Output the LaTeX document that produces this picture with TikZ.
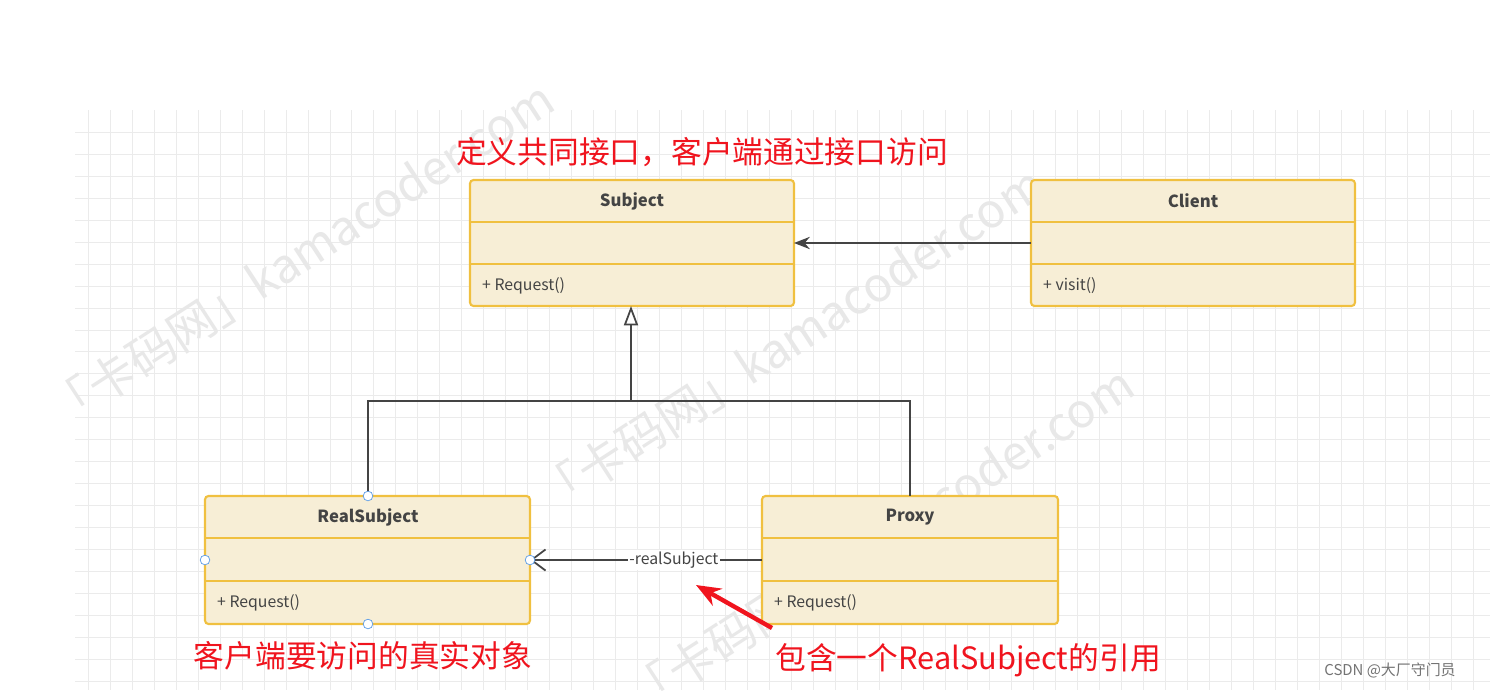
\documentclass[tikz,border=0pt]{standalone}
\usepackage{fontspec}
\setmainfont{Noto Sans CJK SC}
\usepackage{tikz}
\usetikzlibrary{arrows.meta}
\definecolor{boxfill}{HTML}{F7EED6}
\definecolor{boxline}{HTML}{F0C040}
\definecolor{linegray}{HTML}{444444}
\definecolor{handle}{HTML}{5A9BE6}
\definecolor{notered}{HTML}{F0141E}

\begin{document}
\begin{tikzpicture}[
    x=0.02cm, y=-0.02cm,
    umlbox/.style={draw=boxline, fill=boxfill, line width=1.2pt, rounded corners=2pt},
    part/.style={draw=boxline, line width=1.2pt},
    title/.style={font=\fontsize{9.5}{11}\selectfont\bfseries, text=linegray},
    member/.style={font=\fontsize{9}{11}\selectfont, text=linegray, anchor=west},
    note/.style={font=\fontsize{17.5}{20}\selectfont, text=notered},
    wire/.style={draw=linegray, line width=1pt},
    dot/.style={circle, draw=handle, fill=white, inner sep=0pt, minimum size=5.5pt},
    watermark/.style={font=\fontsize{27}{30}\selectfont, text=black!9, rotate=33}
]
    \useasboundingbox (0,0) rectangle (1490,690);
    % grid
    \fill[white] (0,0) rectangle (1490,690);
    \draw[black!8, line width=0.5pt, step=0.44cm] (75,110) grid (1490,690);
    % watermarks
    \node[watermark] (w1) at (300,255) {「卡码网」kamacoder.com};
    \node[watermark] (w2) at (790,340) {「卡码网」kamacoder.com};
    \node[watermark] (w3) at (880,540) {「卡码网」kamacoder.com};
    % classes
    \draw[umlbox] (470,180) rectangle (794,306);
    \draw[part] (470,222) -- (794,222) (470,264) -- (794,264);
    \node[title] (subject) at (632,201) {Subject};
    \node[member] (subreq) at (476,286) {+ Request()};
    \draw[umlbox] (1031,180) rectangle (1355,306);
    \draw[part] (1031,222) -- (1355,222) (1031,264) -- (1355,264);
    \node[title] (client) at (1193,201) {Client};
    \node[member] (visit) at (1037,286) {+ visit()};
    \draw[umlbox] (205,496) rectangle (530,624);
    \draw[part] (205,538) -- (530,538) (205,581) -- (530,581);
    \node[title] (real) at (368,517) {RealSubject};
    \node[member] (realreq) at (211,603) {+ Request()};
    \draw[umlbox] (762,496) rectangle (1058,624);
    \draw[part] (762,538) -- (1058,538) (762,581) -- (1058,581);
    \node[title] (proxy) at (910,517) {Proxy};
    \node[member] (proxyreq) at (768,603) {+ Request()};
    % anchors
    \coordinate (subB) at (631,306);
    \coordinate (subR) at (794,243);
    \coordinate (cliL) at (1031,243);
    \coordinate (realT) at (368,496);
    \coordinate (realR) at (530,560);
    \coordinate (proxyT) at (910,496);
    \coordinate (proxyL) at (762,560);
    % connectors
    \draw[wire, -{Stealth[length=9pt, width=7pt]}] (cliL) -- (subR);
    \draw[wire, -{Triangle[open, length=11pt, width=8pt, fill=white]}] (631,401) -- (subB);
    \draw[wire] (realT) -- (368,401) -- (910,401) -- (proxyT);
    \draw[wire, -{Straight Barb[length=8pt, width=12pt]}] (proxyL) -- node[pos=0.38, fill=white, font=\fontsize{9}{11}\selectfont, text=linegray, inner sep=1pt] (ref) {-realSubject} (realR);
    % handles
    \node[dot] (h1) at (368,496) {};
    \node[dot] (h2) at (205,560) {};
    \node[dot] (h3) at (530,560) {};
    \node[dot] (h4) at (368,624) {};
    % notes
    \node[note] (n1) at (702,152) {定义共同接口，客户端通过接口访问};
    \node[note] (n2) at (363,656) {客户端要访问的真实对象};
    \node[note] (n3) at (968,660) {包含一个RealSubject的引用};
    \coordinate (tail) at (772,628);
    \coordinate (tip) at (696,585);
    \draw[notered, line width=2.5pt, -{Stealth[length=14pt, width=11pt]}] (tail) -- (tip);
    \node[font=\fontsize{8.5}{10}\selectfont, text=black!55] (csdn) at (1390,670) {CSDN @大厂守门员};
\end{tikzpicture}
\end{document}
